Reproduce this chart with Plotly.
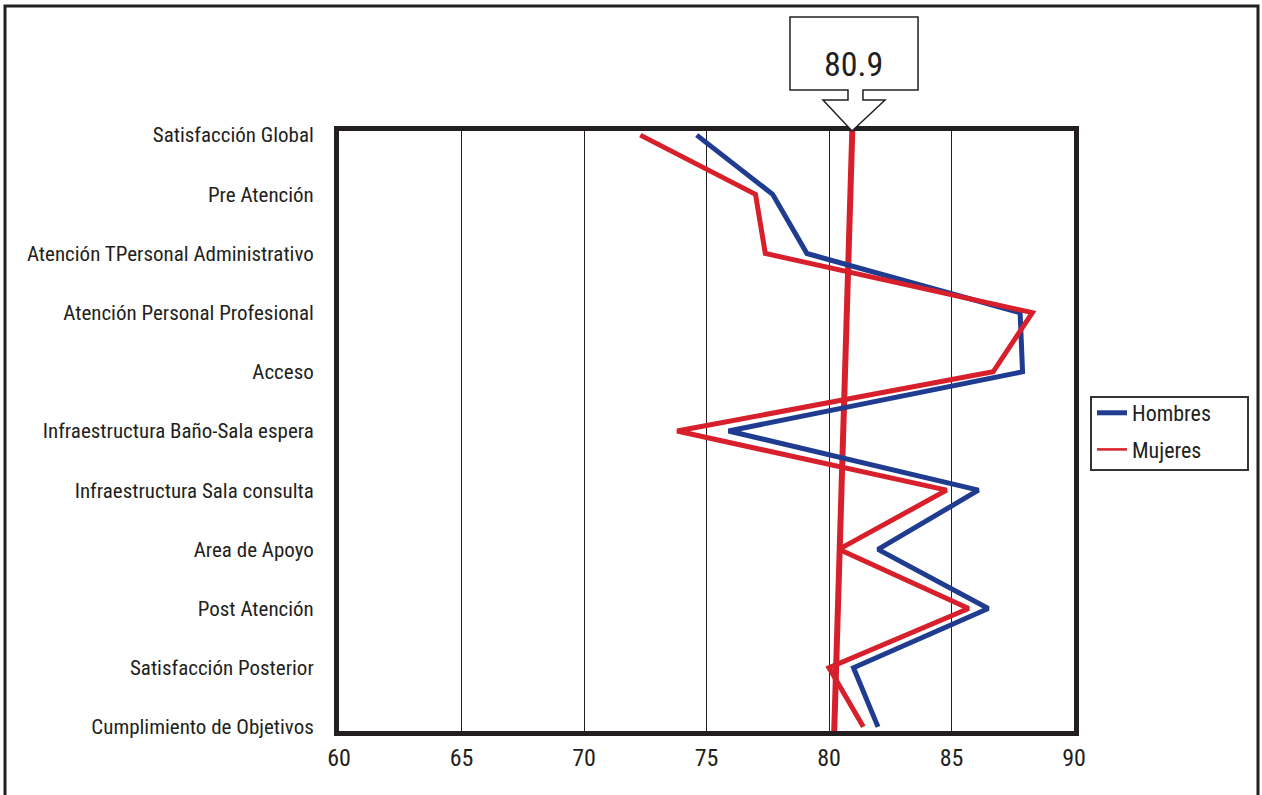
import plotly.graph_objects as go

categories = [
    "Satisfacción Global",
    "Pre Atención",
    "Atención TPersonal Administrativo",
    "Atención Personal Profesional",
    "Acceso",
    "Infraestructura Baño-Sala espera",
    "Infraestructura Sala consulta",
    "Area de Apoyo",
    "Post Atención",
    "Satisfacción Posterior",
    "Cumplimiento de Objetivos",
]
hombres = [74.6, 77.7, 79.1, 87.8, 87.9, 75.9, 86.1, 82.0, 86.5, 81.0, 82.0]
mujeres = [72.3, 77.0, 77.4, 88.3, 86.7, 73.8, 84.8, 80.4, 85.7, 80.0, 81.4]
avg_label = "80.9"
avg_line_x = [80.95, 80.2]
avg_line_y = [-0.07, 10.25]
x_ticks = [60, 65, 70, 75, 80, 85, 90]

FONT = "Roboto Condensed, Liberation Sans Narrow, Arial Narrow, sans-serif"
BLUE = "#1f3c91"
RED = "#d7202b"
INK = "#231f20"

y_idx = list(range(len(categories)))

fig = go.Figure()
fig.add_trace(go.Scatter(x=avg_line_x, y=avg_line_y, mode="lines",
                         line=dict(color=RED, width=6), showlegend=False, hoverinfo="skip"))
fig.add_trace(go.Scatter(x=hombres, y=y_idx, mode="lines", name="Hombres",
                         line=dict(color=BLUE, width=5), showlegend=False))
fig.add_trace(go.Scatter(x=mujeres, y=y_idx, mode="lines", name="Mujeres",
                         line=dict(color=RED, width=5), showlegend=False))
# legend samples
fig.add_trace(go.Scatter(x=[None], y=[None], mode="lines", name="Hombres", legendgroup="h",
                         line=dict(color=BLUE, width=5)))
fig.add_trace(go.Scatter(x=[None], y=[None], mode="lines", name="Mujeres", legendgroup="m",
                         line=dict(color=RED, width=2.5)))

W, H = 1262, 795
L, R, T, B = 339, 1074, 131, 731
def px(x):
    return (x - L) / (R - L)
def py(y):
    return (B - y) / (B - T)

pts = [(790, 17), (918, 17), (918, 90), (863, 90), (863, 100), (885, 100), (852, 131),
       (823, 100), (848, 100), (848, 90), (790, 90)]
path = "M " + " L ".join(f"{px(a):.4f},{py(b):.4f}" for a, b in pts) + " Z"

fig.update_layout(
    width=W, height=H,
    margin=dict(l=L, r=W - R, t=T, b=H - B, autoexpand=False),
    paper_bgcolor="white", plot_bgcolor="white",
    font=dict(family=FONT, color=INK, size=20),
    xaxis=dict(range=[60, 90], tickvals=x_ticks, ticks="", showgrid=True,
               gridcolor=INK, gridwidth=1.2, showline=True, mirror=True,
               linecolor=INK, linewidth=5, zeroline=False, automargin=False,
               tickfont=dict(size=24, family=FONT, color=INK), ticklabelstandoff=1),
    yaxis=dict(range=[10.07, -0.07], tickvals=y_idx, ticktext=categories, ticks="",
               showgrid=False, showline=True, mirror=True, linecolor=INK, linewidth=5,
               zeroline=False, automargin=False,
               tickfont=dict(size=21, family=FONT, color=INK),
               ticklabelstandoff=16),
    legend=dict(x=px(1092), y=py(392), xanchor="left", yanchor="top",
                borderwidth=0, bgcolor="rgba(0,0,0,0)",
                font=dict(size=22, family=FONT, color=INK),
                tracegroupgap=5, itemwidth=30),
    shapes=[
        dict(type="path", xref="paper", yref="paper", path=path,
             line=dict(color=INK, width=1.5), fillcolor="white", layer="above"),
        dict(type="rect", xref="paper", yref="paper",
             x0=px(1091), x1=px(1248), y0=py(470), y1=py(397),
             line=dict(color="#333333", width=2), fillcolor="white", layer="below"),
        dict(type="rect", xref="paper", yref="paper",
             x0=px(5), x1=px(1258), y0=py(800), y1=py(6),
             line=dict(color=INK, width=3), fillcolor="rgba(0,0,0,0)"),
    ],
    annotations=[
        dict(x=px(853), y=py(64), xref="paper", yref="paper", text=avg_label,
             showarrow=False, font=dict(size=34, family=FONT, color=INK),
             xanchor="center", yanchor="middle"),
    ],
)

fig.write_html("out.html", config={"displayModeBar": False},
               post_script="document.body.style.margin='0px';")
